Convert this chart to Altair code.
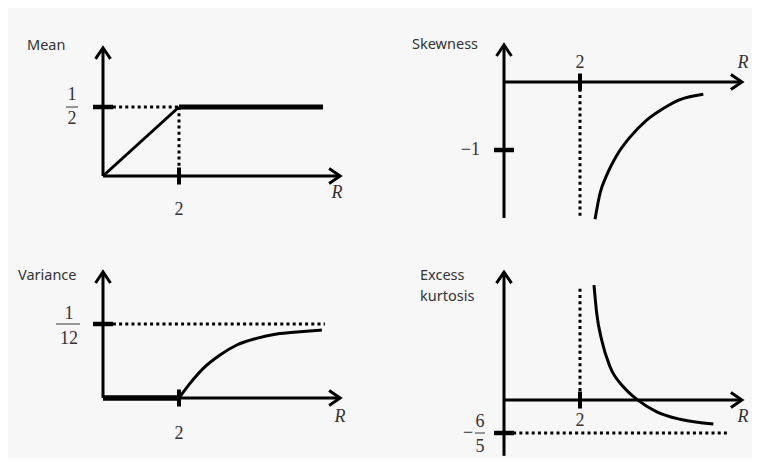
import altair as alt
import pandas as pd

# ---------------- data ----------------
R_THRESHOLD = 2

mean_R = [0, 2, 5.79]
mean_val = [0, 0.5, 0.5]
mean_limit = 0.5

var_zero_R = [0, 2]
var_zero_val = [0, 0]
var_R = [2.0, 2.29, 2.64, 3.08, 3.52, 4.04, 4.57, 5.18, 5.76]
var_val = [0.0, 0.0165, 0.0334, 0.0484, 0.0597, 0.0672, 0.0720, 0.0746, 0.0766]
var_limit = 1 / 12

skew_R = [2.395, 2.526, 2.703, 2.966, 3.316, 3.755, 4.192, 4.632, 5.245]
skew_val = [-2.02, -1.64, -1.37, -1.08, -0.81, -0.56, -0.39, -0.26, -0.18]
skew_mark = -1

kurt_R = [2.368, 2.44, 2.57, 2.79, 3.14, 3.49, 4.02, 4.63, 5.51]
kurt_val = [4.18, 3.15, 2.18, 1.21, 0.48, 0.03, -0.43, -0.70, -0.87]
kurt_limit = -1.2

# ---------------- styling / layout ----------------
W = 372
H_TOP = 226
H_BOT = 222
PX_PER_R = 38.0
CHEVRON = "M-1,-0.68L0,0L-1,0.68"
TITLE_FONT = "Noto Sans"
MATH_FONT = "Liberation Serif"
TXT = "#333333"
MATH_SIZE = 18
TITLE_SIZE = 14.5


def scale(dom):
    return alt.Scale(domain=dom, nice=False, zero=False)


def enc(xd, yd, two=False):
    e = dict(
        x=alt.X("x:Q", scale=scale(xd), axis=None),
        y=alt.Y("y:Q", scale=scale(yd), axis=None),
    )
    if two:
        e["x2"] = alt.X2("x2:Q")
        e["y2"] = alt.Y2("y2:Q")
    return e


def text_layer(xd, yd, x, y, t, dx=0, dy=0, font=MATH_FONT, size=MATH_SIZE,
               style="normal", align="center"):
    df = pd.DataFrame({"x": [x], "y": [y], "t": [t]})
    return alt.Chart(df).mark_text(
        font=font, fontSize=size, fontStyle=style, align=align,
        baseline="middle", dx=dx, dy=dy, color=TXT
    ).encode(text="t:N", **enc(xd, yd))


def line_layer(xd, yd, xs, ys, width, interp="linear"):
    df = pd.DataFrame({"x": xs, "y": ys, "i": list(range(len(xs)))})
    return alt.Chart(df).mark_line(color="black", strokeWidth=width,
                                   strokeCap="butt", interpolate=interp).encode(
        order="i:Q", **enc(xd, yd))


def dotted_layer(xd, yd, segs):
    df = pd.DataFrame(segs, columns=["x", "y", "x2", "y2"])
    return alt.Chart(df).mark_rule(color="black", strokeWidth=3,
                                   strokeDash=[3, 3.2]).encode(**enc(xd, yd, True))


def base_layers(xd, yd, x_tip, y_tip, y_bot, level):
    axes = pd.DataFrame({"x": [0, 0], "y": [y_bot, 0],
                         "x2": [0, x_tip], "y2": [y_tip, 0]})
    arrows = pd.DataFrame({"x": [x_tip, 0], "y": [0, y_tip], "a": [0, 270]})
    vtick = pd.DataFrame({"x": [R_THRESHOLD], "y": [0]})
    htick = pd.DataFrame({"x": [0], "y": [level]})
    return [
        alt.Chart(axes).mark_rule(color="black", strokeWidth=3).encode(**enc(xd, yd, True)),
        alt.Chart(arrows).mark_point(shape=CHEVRON, filled=False, size=484,
                                     strokeWidth=3, color="black", opacity=1).encode(
            angle=alt.Angle("a:Q", scale=None), **enc(xd, yd)),
        alt.Chart(vtick).mark_tick(orient="vertical", size=17, thickness=4,
                                   color="black", opacity=1).encode(**enc(xd, yd)),
        alt.Chart(htick).mark_tick(orient="horizontal", size=20, thickness=4.5,
                                   color="black", opacity=1).encode(**enc(xd, yd)),
    ]


def frac_bar(xd, yd, y, off, size):
    df = pd.DataFrame({"x": [0], "y": [y]})
    return alt.Chart(df).mark_tick(orient="horizontal", size=size, thickness=1.2,
                                   color="#555555", opacity=1, xOffset=off).encode(**enc(xd, yd))


def xdom(origin_px):
    lo = -origin_px / PX_PER_R
    return [lo, lo + W / PX_PER_R]


def ydom(zero_px, px_per_unit, H):
    hi = zero_px / px_per_unit
    return [hi - H / px_per_unit, hi]


# ---------------- Mean ----------------
xd = xdom(95)
yd = ydom(168, 138, H_TOP)
mean = alt.layer(
    *base_layers(xd, yd, 6.24, 0.928, 0, mean_limit),
    dotted_layer(xd, yd, [(0.26, mean_limit, R_THRESHOLD, mean_limit),
                          (R_THRESHOLD, mean_limit, R_THRESHOLD, 0.06)]),
    line_layer(xd, yd, mean_R[:2], mean_val[:2], 3),
    line_layer(xd, yd, mean_R[1:], mean_val[1:], 5),
    text_layer(xd, yd, 0, 0.928, "Mean", dx=-76, dy=-2, font=TITLE_FONT, size=TITLE_SIZE, align="left"),
    text_layer(xd, yd, R_THRESHOLD, 0, "2", dy=34),
    text_layer(xd, yd, 6.24, 0, "R", dx=-3, dy=17, style="italic"),
    text_layer(xd, yd, 0, mean_limit, "1", dx=-31, dy=-12),
    text_layer(xd, yd, 0, mean_limit, "2", dx=-31, dy=12),
    frac_bar(xd, yd, mean_limit, -31, 12),
).properties(width=W, height=H_TOP)

# ---------------- Skewness ----------------
xd = xdom(124)
yd = ydom(74, 68, H_TOP)
skew = alt.layer(
    *base_layers(xd, yd, 6.26, 0.544, -2.0, skew_mark),
    dotted_layer(xd, yd, [(R_THRESHOLD, -0.1, R_THRESHOLD, -2.0)]),
    line_layer(xd, yd, skew_R, skew_val, 3, "monotone"),
    text_layer(xd, yd, 0, 0.544, "Skewness", dx=-92, dy=0, font=TITLE_FONT, size=TITLE_SIZE, align="left"),
    text_layer(xd, yd, R_THRESHOLD, 0, "2", dy=-19),
    text_layer(xd, yd, 6.26, 0, "R", dx=1, dy=-19, style="italic"),
    text_layer(xd, yd, 0, skew_mark, "\u22121", dx=-24, align="right"),
).properties(width=W, height=H_TOP)

# ---------------- Variance ----------------
xd = xdom(95)
yd = ydom(164, 888, H_BOT)
var = alt.layer(
    *base_layers(xd, yd, 6.24, 0.1419, 0, var_limit),
    dotted_layer(xd, yd, [(0.26, var_limit, 5.84, var_limit)]),
    line_layer(xd, yd, var_zero_R, var_zero_val, 5.5),
    line_layer(xd, yd, var_R, var_val, 3, "monotone"),
    text_layer(xd, yd, 0, 0.1419, "Variance", dx=-85, dy=4, font=TITLE_FONT, size=TITLE_SIZE, align="left"),
    text_layer(xd, yd, R_THRESHOLD, 0, "2", dy=36),
    text_layer(xd, yd, 6.24, 0, "R", dx=0, dy=19, style="italic"),
    text_layer(xd, yd, 0, var_limit, "1", dx=-34, dy=-10),
    text_layer(xd, yd, 0, var_limit, "12", dx=-34, dy=15),
    frac_bar(xd, yd, var_limit, -35, 24),
).properties(width=W, height=H_BOT)

# ---------------- Excess kurtosis ----------------
xd = xdom(124)
yd = ydom(166, 27.5, H_BOT)
kurt = alt.layer(
    *base_layers(xd, yd, 6.26, 4.65, -2.03, kurt_limit),
    dotted_layer(xd, yd, [(R_THRESHOLD, 0.1, R_THRESHOLD, 4.15),
                          (0.24, kurt_limit, 5.95, kurt_limit)]),
    line_layer(xd, yd, kurt_R, kurt_val, 3, "monotone"),
    text_layer(xd, yd, 0, 4.65, "Excess", dx=-84, dy=4, font=TITLE_FONT, size=TITLE_SIZE, align="left"),
    text_layer(xd, yd, 0, 4.65, "kurtosis", dx=-84, dy=25, font=TITLE_FONT, size=TITLE_SIZE, align="left"),
    text_layer(xd, yd, R_THRESHOLD, 0, "2", dy=21),
    text_layer(xd, yd, 6.26, 0, "R", dx=1, dy=17, style="italic"),
    text_layer(xd, yd, 0, kurt_limit, "\u2212", dx=-36),
    text_layer(xd, yd, 0, kurt_limit, "6", dx=-24, dy=-11),
    text_layer(xd, yd, 0, kurt_limit, "5", dx=-24, dy=14),
    frac_bar(xd, yd, kurt_limit, -24, 10),
).properties(width=W, height=H_BOT)

chart = alt.vconcat(
    alt.hconcat(mean, skew, spacing=0),
    alt.hconcat(var, kurt, spacing=0),
    spacing=0,
).properties(background="#f7f7f7", padding=0).configure_view(stroke=None)

chart.save("out.html", embed_options={"renderer": "svg", "actions": False})
